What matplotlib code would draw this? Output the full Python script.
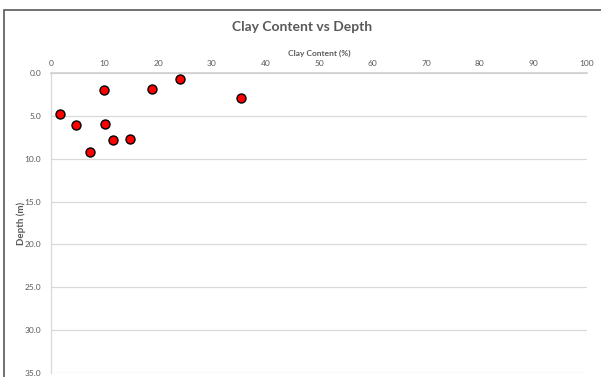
import matplotlib.pyplot as plt
from matplotlib.patches import Rectangle

# Data
clay_content = [1.6, 4.7, 7.3, 9.9, 10.1, 11.6, 14.7, 18.9, 24.1, 35.4]
depth = [4.8, 6.1, 9.25, 2.0, 5.9, 7.8, 7.75, 1.9, 0.7, 2.9]

x_ticks = list(range(0, 101, 10))
y_ticks = [0, 5, 10, 15, 20, 25, 30, 35]

plt.rcParams['font.family'] = ['Lato', 'DejaVu Sans']

fig = plt.figure(figsize=(6.01, 3.77), dpi=100)
ax = fig.add_axes([51 / 601, 4 / 377, (587 - 51) / 601, (373 - 73) / 377])

ax.scatter(clay_content, depth, s=42, color='#ff0000', edgecolors='black',
           linewidths=1.0, zorder=3, clip_on=False)

ax.set_xlim(0, 100)
ax.set_ylim(35, 0)
ax.set_xticks(x_ticks)
ax.set_yticks(y_ticks)
ax.set_yticklabels(['%.1f' % v for v in y_ticks])
ax.xaxis.tick_top()
ax.xaxis.set_label_position('top')
ax.tick_params(axis='both', length=0, labelsize=6, colors='#595959', pad=7)
ax.tick_params(axis='x', pad=4)

ax.grid(axis='y', color='#d9d9d9', linewidth=0.9)
ax.set_axisbelow(True)
for side in ['right', 'bottom']:
    ax.spines[side].set_visible(False)
ax.spines['top'].set_color('#d0d0d0')
ax.spines['top'].set_linewidth(1.2)
ax.spines['left'].set_color('#d9d9d9')
ax.spines['left'].set_linewidth(0.9)

ax.set_xlabel('Clay Content (%)', fontsize=6, fontweight='bold',
              color='#595959', labelpad=3)
ax.set_ylabel('Depth (m)', fontsize=7, fontweight='bold', color='#595959')
ax.yaxis.set_label_coords(-0.046, 0.5)

fig.text(0.503, 1 - 27 / 377, 'Clay Content vs Depth', fontsize=10,
         fontweight='bold', color='#595959', ha='center', va='center')

# outer chart border (cut off on the right and bottom)
fig.patches.append(Rectangle((4 / 601, -0.05), 1.1, 1 - 10 / 377 + 0.05,
                             transform=fig.transFigure, fill=False,
                             edgecolor='#595959', linewidth=1.2))

fig.savefig('out.png', dpi=100)
